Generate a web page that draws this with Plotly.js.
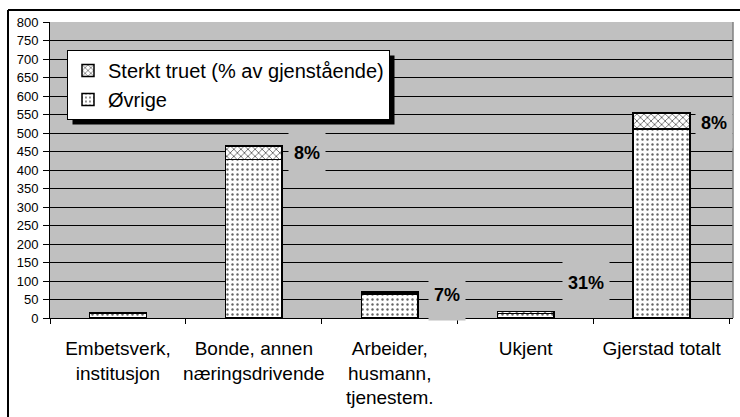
<!DOCTYPE html>
<html>
<head>
<meta charset="utf-8">
<script src="https://cdn.plot.ly/plotly-3.0.1.min.js"></script>
<style>
  html, body { margin: 0; padding: 0; background: #ffffff; }
  #chart { width: 740px; height: 417px; }
</style>
</head>
<body>
<div id="chart"></div>
<script>
// ---- data ----
const categories = [
  "Embetsverk,<br>institusjon",
  "Bonde, annen<br>næringsdrivende",
  "Arbeider,<br>husmann,<br>tjenestem.",
  "Ukjent",
  "Gjerstad totalt"
];
const ovrige = [13, 428, 65, 12, 511];
const sterktTruet = [0, 37, 5, 5, 43];
const percentLabels = [null, "8%", "7%", "31%", "8%"];
const yTickValues = [0, 50, 100, 150, 200, 250, 300, 350, 400, 450, 500, 550, 600, 650, 700, 750, 800];

// ---- style ----
const W = 740, H = 417;
const M = { l: 50, r: 7, t: 22, b: 99 };
const plotW = W - M.l - M.r, plotH = H - M.t - M.b;
const bargap = 0.583;
const barPx = (1 - bargap) * plotW / categories.length;
const labelNudge = [0, 0, -2, 30, -2]; // px upward shifts of the Excel labels
const labelGap = [0, 6, 10, 8, 5];
const FONT = "Liberation Sans, Arial, sans-serif";
const px2x = p => (p - M.l) / plotW;
const py2y = p => 1 - (p - M.t) / plotH;

const traces = [
  {
    type: "bar", name: "Øvrige", x: categories, y: ovrige,
    marker: {
      color: "#ffffff",
      line: { color: "#000000", width: 1.5 },
      pattern: { shape: ".", fgcolor: "#666666", bgcolor: "#ffffff", size: 5, solidity: 0.18 }
    },
    hoverinfo: "skip"
  },
  {
    type: "bar", name: "Sterkt truet (% av gjenstående)", x: categories, y: sterktTruet,
    marker: {
      color: "#ffffff",
      line: { color: "#000000", width: 1.5 },
      pattern: { shape: "x", fgcolor: "#333333", bgcolor: "#ffffff", size: 5, solidity: 0.25 }
    },
    hoverinfo: "skip"
  }
];

const annotations = [];
percentLabels.forEach((t, i) => {
  if (!t) return;
  annotations.push({
    x: categories[i], y: ovrige[i] + sterktTruet[i] / 2,
    xref: "x", yref: "y",
    text: "<b>" + t + "</b>",
    showarrow: false,
    xanchor: "left", yanchor: "middle",
    xshift: barPx / 2 + labelGap[i],
    yshift: labelNudge[i],
    font: { family: FONT, size: 18, color: "#000000" },
    bgcolor: "#c0c0c0",
    borderpad: 5,
    height: 40
  });
});

const shapes = [
  // outer chart frame (left and top edges visible)
  { type: "line", xref: "paper", yref: "paper", x0: px2x(8), x1: px2x(8), y0: py2y(430), y1: py2y(10),
    line: { color: "#000000", width: 2 } },
  { type: "line", xref: "paper", yref: "paper", x0: px2x(8), x1: px2x(760), y0: py2y(10), y1: py2y(10),
    line: { color: "#000000", width: 2 } },
  // plot area right edge
  { type: "line", xref: "paper", yref: "paper", x0: 1, x1: 1, y0: 0, y1: 1,
    line: { color: "#808080", width: 1.5 } }
];

const layout = {
  width: W, height: H,
  margin: M,
  paper_bgcolor: "#ffffff",
  plot_bgcolor: "#c0c0c0",
  barmode: "stack",
  bargap: bargap,
  showlegend: true,
  font: { family: FONT, color: "#000000" },
  legend: {
    x: px2x(67), y: py2y(50), xanchor: "left", yanchor: "top",
    bgcolor: "#ffffff", bordercolor: "#000000", borderwidth: 1,
    traceorder: "reversed",
    font: { family: FONT, size: 20, color: "#000000" }
  },
  xaxis: {
    type: "category",
    tickson: "boundaries",
    ticks: "outside", ticklen: 5, tickcolor: "#000000", tickwidth: 1,
    showline: true, linecolor: "#000000", linewidth: 1,
    showgrid: false,
    tickangle: 0,
    tickfont: { family: FONT, size: 19, color: "#000000" },
    ticklabelstandoff: 13,
    fixedrange: true
  },
  yaxis: {
    range: [0, 800],
    tickvals: yTickValues,
    ticktext: yTickValues.map(String),
    ticks: "outside", ticklen: 6, tickcolor: "#000000", tickwidth: 1,
    showline: true, linecolor: "#000000", linewidth: 1,
    showgrid: true, gridcolor: "#000000", gridwidth: 1,
    zeroline: false,
    tickfont: { family: FONT, size: 13, color: "#000000" },
    ticklabelstandoff: 2,
    fixedrange: true
  },
  annotations: annotations,
  shapes: shapes
};

Plotly.newPlot("chart", traces, layout, { staticPlot: true, displayModeBar: false }).then(gd => {
  const bg = gd.querySelector(".legend .bg");
  if (!bg) return;
  const r = bg.getBoundingClientRect();
  const c = gd.getBoundingClientRect();
  const L = r.left - c.left, T = r.top - c.top;
  const off = 5;
  const shadow = {
    type: "rect", xref: "paper", yref: "paper", layer: "above",
    x0: px2x(L + off), x1: px2x(L + r.width + off),
    y0: py2y(T + r.height + off), y1: py2y(T + off),
    fillcolor: "#000000", line: { width: 0 }
  };
  return Plotly.relayout(gd, { shapes: shapes.concat([shadow]) });
});
</script>
</body>
</html>
